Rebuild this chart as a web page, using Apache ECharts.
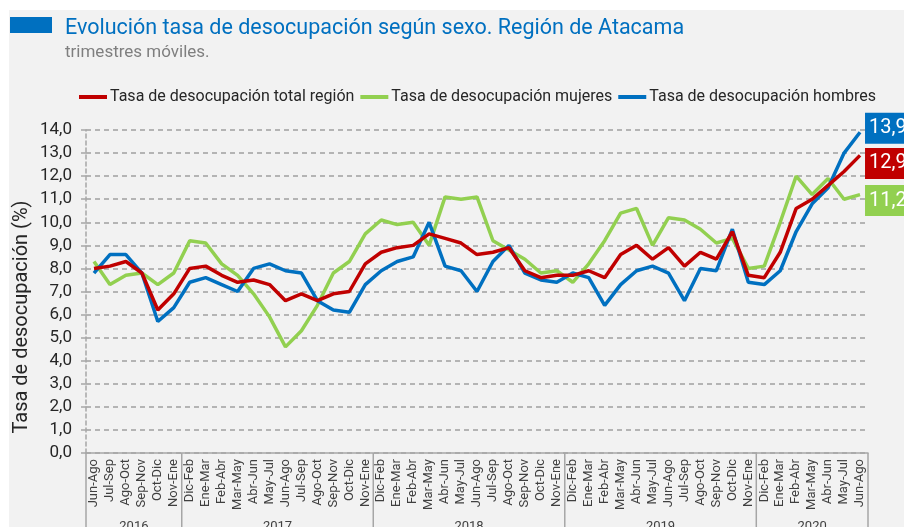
<!DOCTYPE html>
<html><head><meta charset="utf-8">
<script src="https://cdn.jsdelivr.net/npm/echarts@6/dist/echarts.min.js"></script>
<style>html,body{margin:0;padding:0;background:#fff}#c{width:904px;height:527px}</style>
</head><body><div id="c"></div>
<script>
const categories = [
 'Jun-Ago','Jul-Sep','Ago-Oct','Sep-Nov','Oct-Dic','Nov-Ene',
 'Dic-Feb','Ene-Mar','Feb-Abr','Mar-May','Abr-Jun','May-Jul','Jun-Ago','Jul-Sep','Ago-Oct','Sep-Nov','Oct-Dic','Nov-Ene',
 'Dic-Feb','Ene-Mar','Feb-Abr','Mar-May','Abr-Jun','May-Jul','Jun-Ago','Jul-Sep','Ago-Oct','Sep-Nov','Oct-Dic','Nov-Ene',
 'Dic-Feb','Ene-Mar','Feb-Abr','Mar-May','Abr-Jun','May-Jul','Jun-Ago','Jul-Sep','Ago-Oct','Sep-Nov','Oct-Dic','Nov-Ene',
 'Dic-Feb','Ene-Mar','Feb-Abr','Mar-May','Abr-Jun','May-Jul','Jun-Ago'];
const years = ['2016','2017','2018','2019','2020'];
const yearCounts = [6,12,12,12,7];
const totalRegion = [8.0,8.1,8.3,7.8,6.2,6.9, 8.0,8.1,7.7,7.4,7.5,7.3,6.6,6.9,6.6,6.9,7.0,8.2, 8.7,8.9,9.0,9.5,9.3,9.1,8.6,8.7,8.9,7.9,7.6,7.7, 7.7,7.9,7.6,8.6,9.0,8.4,8.9,8.1,8.7,8.4,9.6,7.7, 7.6,8.7,10.6,11.0,11.6,12.2,12.9];
const mujeres = [8.3,7.3,7.7,7.8,7.3,7.8, 9.2,9.1,8.2,7.7,6.9,5.9,4.6,5.3,6.4,7.8,8.3,9.5, 10.1,9.9,10.0,9.0,11.1,11.0,11.1,9.2,8.8,8.4,7.8,7.9, 7.4,8.2,9.2,10.4,10.6,9.0,10.2,10.1,9.7,9.1,9.3,8.0, 8.1,10.0,12.0,11.2,11.9,11.0,11.2];
const hombres = [7.8,8.6,8.6,7.8,5.7,6.3, 7.4,7.6,7.3,7.0,8.0,8.2,7.9,7.8,6.6,6.2,6.1,7.3, 7.9,8.3,8.5,10.0,8.1,7.9,7.0,8.3,9.0,7.8,7.5,7.4, 7.8,7.6,6.4,7.3,7.9,8.1,7.8,6.6,8.0,7.9,9.7,7.4, 7.3,7.9,9.6,10.8,11.5,13.0,13.9];
const seriesNames = ['Tasa de desocupación total región','Tasa de desocupación mujeres','Tasa de desocupación hombres'];
const colors = ['#c00000','#92d050','#0070c0'];
const labelOffsets = [[0,8],[0,6],[0,-4]];

const fmt = v => v.toFixed(1).replace('.', ',');
const font = 'Roboto';
const chart = echarts.init(document.getElementById('c'));
const data = [totalRegion, mujeres, hombres];
chart.setOption({
  animation:false,
  backgroundColor:'#fff',
  color: colors,
  grid:{left:86,right:36,top:130,bottom:74},
  legend:{left:74,top:84,itemGap:6,icon:'rect',itemWidth:28,itemHeight:4,
    textStyle:{fontFamily:font,fontSize:16,color:'#262626',padding:[0,0,0,-2]},
    data:seriesNames},
  xAxis:{type:'category',data:categories,boundaryGap:true,
    axisLine:{lineStyle:{color:'#a6a6a6',width:1.5}},
    axisTick:{show:false},
    axisLabel:{rotate:90,interval:0,fontFamily:font,fontSize:13,color:'#404040',margin:6}},
  yAxis:{type:'value',min:0,max:14,interval:1,
    axisLine:{show:true,lineStyle:{color:'#a6a6a6',type:[4,3],width:1.5}},
    axisTick:{show:true,length:5,lineStyle:{color:'#a6a6a6',width:1.5}},
    axisLabel:{formatter:v=>fmt(v),fontFamily:font,fontSize:17,color:'#262626',margin:14},
    splitLine:{lineStyle:{color:'#a0a0a0',type:[5,4],width:1.5}}},
  series: data.map((d,k)=>({name:seriesNames[k],type:'line',data:d,
    symbol:'none',lineStyle:{width:3.5,color:colors[k]},itemStyle:{color:colors[k]},z:2+(k===0?1:0),
    endLabel:{show:true,distance:5,formatter:p=>fmt(p.value),color:'#fff',backgroundColor:colors[k],
      fontSize:20,fontFamily:font,padding:[6,8,5,4],offset:labelOffsets[k]}}))
});

// decorations derived from axis scale
const c0 = chart.convertToPixel({xAxisIndex:0}, 0);
const c1 = chart.convertToPixel({xAxisIndex:0}, 1);
const w = c1 - c0;
const yAxisBottom = chart.convertToPixel({yAxisIndex:0}, 0);
const graphics = [
  {type:'rect',z:-10,silent:true,shape:{x:9,y:10,width:904,height:527},style:{fill:'#f2f2f2'}},
  {type:'rect',shape:{x:10,y:17,width:42,height:16},style:{fill:'#0070c0'}},
  {type:'text',x:65,y:29,style:{text:'Evolución tasa de desocupación según sexo. Región de Atacama',fontFamily:font,fontSize:21.5,fill:'#0070c0',verticalAlign:'middle'}},
  {type:'text',x:65,y:53,style:{text:'trimestres móviles.',fontFamily:font,fontSize:17,fill:'#7f7f7f',verticalAlign:'middle'}},
  {type:'text',x:22,y:317,rotation:Math.PI/2,style:{text:'Tasa de desocupación (%)',fontFamily:font,fontSize:20,fill:'#262626',align:'center',verticalAlign:'middle'}}
];
let start = 0;
const bounds = [c0 - w/2];
yearCounts.forEach((n,j)=>{
  const left = c0 - w/2 + start*w;
  const right = left + n*w;
  bounds.push(right);
  graphics.push({type:'text',x:(left+right)/2,y:520,style:{text:years[j],fontFamily:font,fontSize:13,fill:'#404040',align:'center',verticalAlign:'top'}});
  start += n;
});
bounds.forEach(b=>graphics.push({type:'line',shape:{x1:b,y1:yAxisBottom,x2:b,y2:527},style:{stroke:'#a6a6a6',lineWidth:1.5}}));
chart.setOption({graphic:graphics});
</script></body></html>
